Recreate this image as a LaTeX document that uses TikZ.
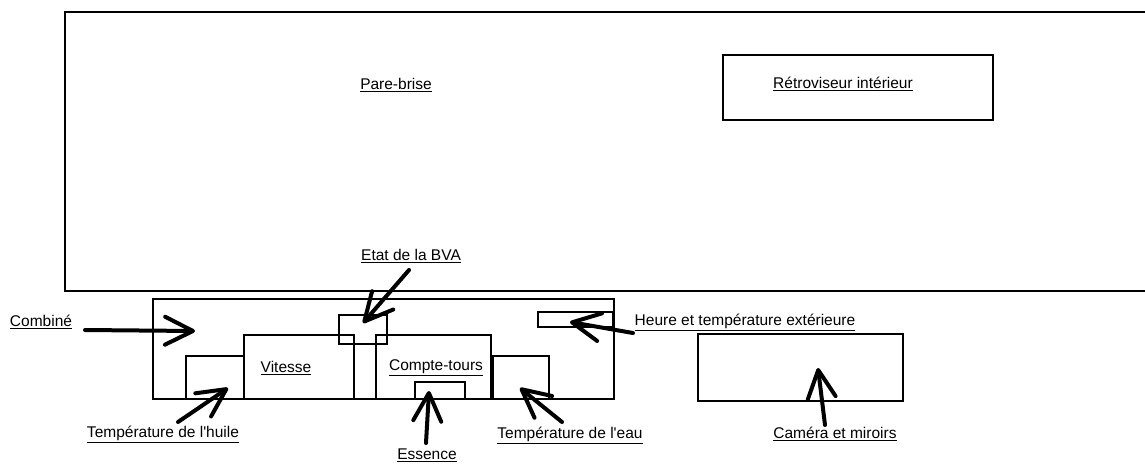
\documentclass[tikz,border=0pt]{standalone}
\usepackage{fontspec}
\setmainfont{Liberation Sans}
\usetikzlibrary{arrows.meta}
\begin{document}
\begin{tikzpicture}[x=1pt,y=-1pt,
  box/.style={draw=black,line width=1.5pt},
  lbl/.style={font=\fontsize{15.5}{18}\selectfont,inner sep=0pt},
  arr/.style={line width=4pt,line cap=round,-{Straight Barb[length=28pt,width=28pt,round]}}]
\useasboundingbox (0,0) rectangle (1145,464);
\path[clip] (0,0) rectangle (1145,464);
\fill[white] (0,0) rectangle (1145,464);
% boxes
\draw[box] (65,12) rectangle (1170,291);
\draw[box] (723,55) rectangle (993,120);
\draw[box] (153,299) rectangle (614,399);
\draw[box] (186,356) rectangle (244,399);
\draw[box] (244,335) rectangle (354,399);
\draw[box] (339,315) rectangle (387,344);
\draw[box] (376,335) rectangle (491,399);
\draw[box] (415,382) rectangle (465,399);
\draw[box] (493,356) rectangle (549,399);
\draw[box] (538,312) rectangle (613,327);
\draw[box] (698,334) rectangle (903,401);
% labels
\node[lbl] (pare) at (396,85) {\underline{Pare-brise}};
\node[lbl] (retro) at (843,84) {\underline{Rétroviseur intérieur}};
\node[lbl] (comb) at (41,322) {\underline{Combiné}};
\node[lbl] (bva) at (411,256) {\underline{Etat de la BVA}};
\node[lbl] (vit) at (286,368) {\underline{Vitesse}};
\node[lbl] (ct) at (436,368) {\underline{Compte-tours}};
\node[lbl] (huile) at (163,434) {\underline{Température de l\textquotesingle huile}};
\node[lbl] (ess) at (427,455) {\underline{Essence}};
\node[lbl] (eau) at (570,435) {\underline{Température de l\textquotesingle eau}};
\node[lbl] (heure) at (745,322) {\underline{Heure et température extérieure}};
\node[lbl] (cam) at (835,434) {\underline{Caméra et miroirs}};
% arrow ends
\coordinate (a1s) at (85,330);  \coordinate (a1e) at (195,331);
\coordinate (a2s) at (409,270); \coordinate (a2e) at (363,323);
\coordinate (a3s) at (633,333); \coordinate (a3e) at (570,322);
\coordinate (a4s) at (178,422); \coordinate (a4e) at (228,388);
\coordinate (a5s) at (426,443); \coordinate (a5e) at (429,391);
\coordinate (a6s) at (562,422); \coordinate (a6e) at (520,388);
\coordinate (a7s) at (825,425); \coordinate (a7e) at (818,368);
\draw[arr] (a1s) -- (a1e);
\draw[arr] (a2s) -- (a2e);
\draw[arr] (a3s) -- (a3e);
\draw[arr] (a4s) -- (a4e);
\draw[arr] (a5s) -- (a5e);
\draw[arr] (a6s) -- (a6e);
\draw[arr] (a7s) -- (a7e);
\end{tikzpicture}
\end{document}
